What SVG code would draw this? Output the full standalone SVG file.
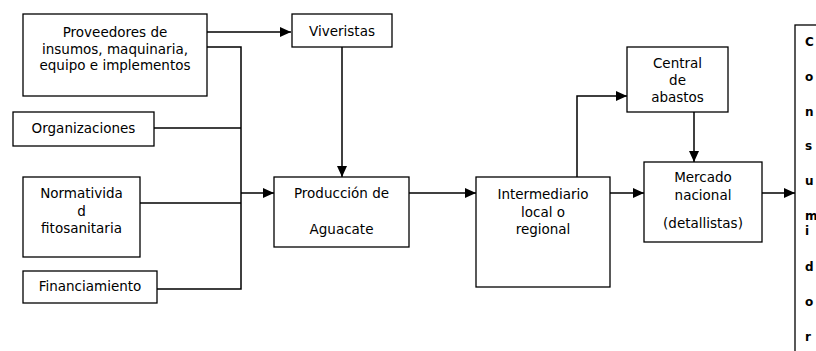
<svg xmlns="http://www.w3.org/2000/svg" width="816" height="351" viewBox="0 0 816 351">
<style>
.box{fill:#fff;stroke:#000;stroke-width:1.3}
.t{font-family:"DejaVu Sans",sans-serif;font-size:13.5px;fill:#000;text-anchor:middle}
.c{font-family:"DejaVu Sans",sans-serif;font-size:12px;font-weight:bold;fill:#000}
.ln{fill:none;stroke:#000;stroke-width:1.5}
</style>
<defs>
<marker id="ah" markerUnits="userSpaceOnUse" markerWidth="11" markerHeight="10" refX="11" refY="5" orient="auto">
<path d="M0,0 L11,5 L0,10 Z" fill="#000"/>
</marker>
</defs>
<rect width="816" height="351" fill="#fff"/>
<g id="connectors">
<path class="ln" d="M207,32 H291" marker-end="url(#ah)"/>
<path class="ln" d="M207,47 H241 V289 H157"/>
<path class="ln" d="M154,128 H241"/>
<path class="ln" d="M140,203 H241"/>
<path class="ln" d="M241,193 H274" marker-end="url(#ah)"/>
<path class="ln" d="M342,47 V177" marker-end="url(#ah)"/>
<path class="ln" d="M409,193 H476" marker-end="url(#ah)"/>
<path class="ln" d="M577,177 V96 H627" marker-end="url(#ah)"/>
<path class="ln" d="M694,112 V162" marker-end="url(#ah)"/>
<path class="ln" d="M610,193 H644" marker-end="url(#ah)"/>
<path class="ln" d="M762,193 H795" marker-end="url(#ah)"/>
</g>
<g id="proveedores">
<rect class="box" x="23" y="14" width="184" height="82"/>
<text class="t" x="115" y="36.5">Proveedores de</text>
<text class="t" x="115" y="53.5">insumos, maquinaria,</text>
<text class="t" x="115" y="69.5">equipo e implementos</text>
</g>
<g id="viveristas">
<rect class="box" x="292" y="14" width="100" height="33"/>
<text class="t" x="342" y="35.5">Viveristas</text>
</g>
<g id="organizaciones">
<rect class="box" x="13" y="112" width="141" height="34"/>
<text class="t" x="83.5" y="133">Organizaciones</text>
</g>
<g id="normatividad">
<rect class="box" x="23" y="177" width="117" height="80"/>
<text class="t" x="81.5" y="197.5">Normativida</text>
<text class="t" x="81.5" y="216">d</text>
<text class="t" x="81.5" y="233">fitosanitaria</text>
</g>
<g id="financiamiento">
<rect class="box" x="23" y="271" width="134" height="32"/>
<text class="t" x="90" y="291">Financiamiento</text>
</g>
<g id="produccion">
<rect class="box" x="274" y="177" width="135" height="70"/>
<text class="t" x="341.5" y="197.5">Producción de</text>
<text class="t" x="341.5" y="233.5">Aguacate</text>
</g>
<g id="intermediario">
<rect class="box" x="476" y="177" width="134" height="110"/>
<text class="t" x="543" y="198.5">Intermediario</text>
<text class="t" x="543" y="217">local o</text>
<text class="t" x="543" y="233.5">regional</text>
</g>
<g id="central">
<rect class="box" x="627" y="47" width="101" height="65"/>
<text class="t" x="677.5" y="67.5">Central</text>
<text class="t" x="677.5" y="84.5">de</text>
<text class="t" x="677.5" y="102">abastos</text>
</g>
<g id="mercado">
<rect class="box" x="644" y="162" width="118" height="80"/>
<text class="t" x="703" y="181.5">Mercado</text>
<text class="t" x="703" y="199.5">nacional</text>
<text class="t" x="703" y="227.5">(detallistas)</text>
</g>
<g id="consumidor">
<rect class="box" x="795" y="25" width="40" height="340"/>
<text class="c" x="805" y="46">C</text>
<text class="c" x="805" y="80.5">o</text>
<text class="c" x="805" y="116">n</text>
<text class="c" x="805" y="150">s</text>
<text class="c" x="805" y="184.5">u</text>
<text class="c" x="805" y="220">m</text>
<text class="c" x="805" y="235">i</text>
<text class="c" x="805" y="271">d</text>
<text class="c" x="805" y="306">o</text>
<text class="c" x="805" y="340.5">r</text>
</g>
</svg>
